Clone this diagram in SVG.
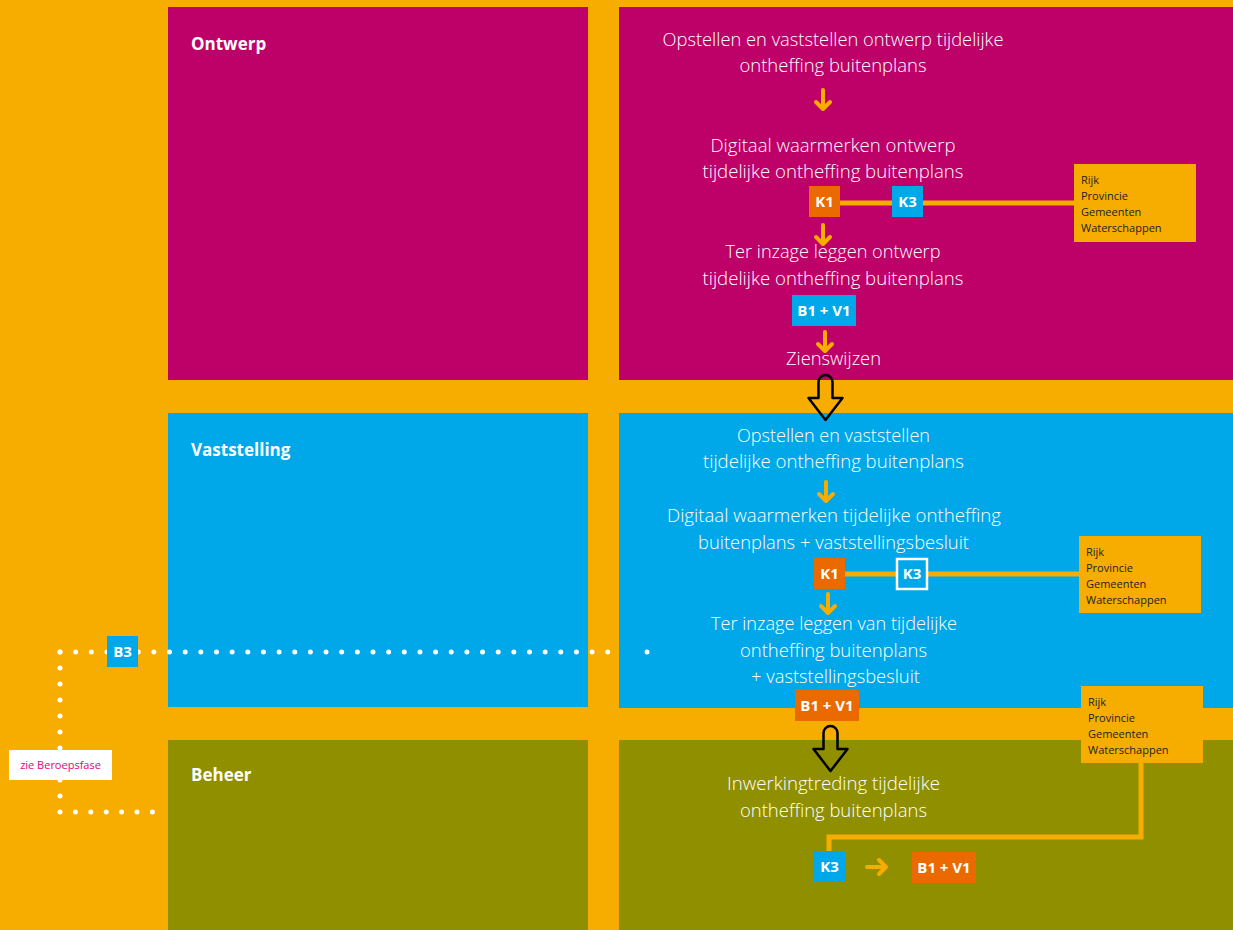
<svg xmlns="http://www.w3.org/2000/svg" width="1233" height="930" viewBox="0 0 1233 930">
<style>
.t{font-family:"Open Sans","Liberation Sans",sans-serif;font-size:17.5px;fill:#ffffff;text-anchor:middle;font-weight:300}
.h{font-family:"Open Sans","Liberation Sans",sans-serif;font-size:17px;font-weight:bold;fill:#ffffff}
.lb{font-family:"Open Sans","Liberation Sans",sans-serif;font-size:15px;font-weight:bold;fill:#ffffff;text-anchor:middle}
.r{font-family:"Open Sans","Liberation Sans",sans-serif;font-size:11px;fill:#222222}
.sa{fill:none;stroke:#F7AD00;stroke-width:4;stroke-linecap:round;stroke-linejoin:round}
.ln{fill:none;stroke:#F7AD00;stroke-width:5}
.dot{fill:none;stroke:#ffffff;stroke-width:5;stroke-linecap:round}
.ba{fill:none;stroke:#000000;stroke-width:2.5;stroke-linejoin:round}
</style>
<defs>
<path id="big" d="M-7,23 V7 A7,7 0 0 1 7,7 V23 H17 L0,45 L-17,23 Z"/>
<path id="small" d="M0,0 V18 M-7,12 L0,19 L7,12"/>
</defs>
<rect width="1233" height="930" fill="#F7AD00"/>

<g id="ontwerp-left"><rect x="168" y="7" width="420" height="373" fill="#BE0069"/><text class="h" x="191" y="50">Ontwerp</text></g>
<g id="vaststelling-left"><rect x="168" y="413" width="420" height="294" fill="#00A7E9"/><text class="h" x="191" y="456">Vaststelling</text></g>
<g id="beheer-left"><rect x="168" y="740" width="420" height="190" fill="#8F8F00"/><text class="h" x="191" y="781">Beheer</text></g>
<g id="ontwerp-right"><rect x="619" y="7" width="614" height="373" fill="#BE0069"/></g>
<g id="vaststelling-right"><rect x="619" y="413" width="614" height="295" fill="#00A7E9"/></g>
<g id="beheer-right"><rect x="619" y="740" width="614" height="190" fill="#8F8F00"/></g>

<g id="connectors">
<line class="ln" x1="840" y1="203" x2="1074" y2="203"/>
<line class="ln" x1="845" y1="574" x2="1079" y2="574"/>
<path class="ln" d="M1141,763 V837 H829 V851"/>
<use href="#small" class="sa" x="823" y="90"/>
<use href="#small" class="sa" x="823" y="225"/>
<use href="#small" class="sa" x="825" y="332"/>
<use href="#small" class="sa" x="826" y="482"/>
<use href="#small" class="sa" x="828" y="594"/>
<path class="sa" d="M867,867 H885 M879,860 L886,867 L879,874"/>
<use href="#big" class="ba" x="825.5" y="375"/>
<use href="#big" class="ba" x="830.5" y="726"/>
<line class="dot" x1="60" y1="652" x2="623" y2="652" stroke-dasharray="0 15.65"/>
<circle cx="647" cy="652" r="2.5" fill="#ffffff"/>
<line class="dot" x1="60" y1="652" x2="60" y2="812" stroke-dasharray="0 16"/>
<line class="dot" x1="60" y1="812" x2="153" y2="812" stroke-dasharray="0 15.4"/>
</g>

<g id="step-o1"><text class="t" x="833" y="46" textLength="341" lengthAdjust="spacingAndGlyphs">Opstellen en vaststellen ontwerp tijdelijke</text><text class="t" x="833" y="72" textLength="187" lengthAdjust="spacingAndGlyphs">ontheffing buitenplans</text></g>
<g id="step-o2"><text class="t" x="833" y="152" textLength="245" lengthAdjust="spacingAndGlyphs">Digitaal waarmerken ontwerp</text><text class="t" x="833" y="178" textLength="261" lengthAdjust="spacingAndGlyphs">tijdelijke ontheffing buitenplans</text></g>
<g id="k1-o"><rect x="809" y="186" width="31" height="31" fill="#EB6A00"/><text class="lb" x="824.5" y="207">K1</text></g>
<g id="k3-o"><rect x="892" y="186" width="31" height="31" fill="#00A7E9"/><text class="lb" x="907.5" y="207">K3</text></g>
<g id="rijk-o"><rect x="1074" y="164" width="122" height="78" fill="#F7AD00"/><text class="r" x="1081" y="184">Rijk</text><text class="r" x="1081" y="200">Provincie</text><text class="r" x="1081" y="216">Gemeenten</text><text class="r" x="1081" y="232">Waterschappen</text></g>
<g id="step-o3"><text class="t" x="833" y="258" textLength="215" lengthAdjust="spacingAndGlyphs">Ter inzage leggen ontwerp</text><text class="t" x="833" y="285" textLength="261" lengthAdjust="spacingAndGlyphs">tijdelijke ontheffing buitenplans</text></g>
<g id="bv-o"><rect x="792" y="295" width="64" height="31" fill="#00A7E9"/><text class="lb" x="824" y="316">B1 + V1</text></g>
<g id="step-o4"><text class="t" x="833.5" y="365" textLength="95" lengthAdjust="spacingAndGlyphs">Zienswijzen</text></g>

<g id="step-v1"><text class="t" x="833.5" y="442" textLength="193" lengthAdjust="spacingAndGlyphs">Opstellen en vaststellen</text><text class="t" x="833.5" y="468" textLength="261" lengthAdjust="spacingAndGlyphs">tijdelijke ontheffing buitenplans</text></g>
<g id="step-v2"><text class="t" x="834" y="522" textLength="334" lengthAdjust="spacingAndGlyphs">Digitaal waarmerken tijdelijke ontheffing</text><text class="t" x="833.5" y="549" textLength="271" lengthAdjust="spacingAndGlyphs">buitenplans + vaststellingsbesluit</text></g>
<g id="k1-v"><rect x="814" y="558" width="31" height="31" fill="#EB6A00"/><text class="lb" x="829.5" y="579">K1</text></g>
<g id="k3-v"><rect x="897" y="559" width="30" height="30" fill="#00A7E9" stroke="#ffffff" stroke-width="2.5"/><text class="lb" x="912" y="579">K3</text></g>
<g id="rijk-v"><rect x="1079" y="536" width="122" height="77" fill="#F7AD00"/><text class="r" x="1086" y="556">Rijk</text><text class="r" x="1086" y="572">Provincie</text><text class="r" x="1086" y="588">Gemeenten</text><text class="r" x="1086" y="604">Waterschappen</text></g>
<g id="step-v3"><text class="t" x="834" y="630" textLength="246" lengthAdjust="spacingAndGlyphs">Ter inzage leggen van tijdelijke</text><text class="t" x="833.5" y="657" textLength="187" lengthAdjust="spacingAndGlyphs">ontheffing buitenplans</text><text class="t" x="835.5" y="683" textLength="169" lengthAdjust="spacingAndGlyphs">+ vaststellingsbesluit</text></g>
<g id="bv-v"><rect x="795" y="690" width="64" height="31" fill="#EB6A00"/><text class="lb" x="827" y="711">B1 + V1</text></g>
<g id="rijk-b"><rect x="1081" y="686" width="122" height="77" fill="#F7AD00"/><text class="r" x="1088" y="706">Rijk</text><text class="r" x="1088" y="722">Provincie</text><text class="r" x="1088" y="738">Gemeenten</text><text class="r" x="1088" y="754">Waterschappen</text></g>

<g id="step-b1"><text class="t" x="833.5" y="790" textLength="213" lengthAdjust="spacingAndGlyphs">Inwerkingtreding tijdelijke</text><text class="t" x="833.5" y="817" textLength="187" lengthAdjust="spacingAndGlyphs">ontheffing buitenplans</text></g>
<g id="k3-b"><rect x="814" y="851" width="31" height="31" fill="#00A7E9"/><text class="lb" x="829.5" y="872">K3</text></g>
<g id="bv-b"><rect x="912" y="852" width="64" height="31" fill="#EB6A00"/><text class="lb" x="944" y="873">B1 + V1</text></g>

<g id="b3"><rect x="107" y="636" width="31" height="31" fill="#00A7E9"/><text class="lb" x="122.5" y="657">B3</text></g>
<g id="beroep"><rect x="9" y="750" width="103" height="30" fill="#ffffff"/><text x="60.5" y="769" font-family="Open Sans, Liberation Sans, sans-serif" font-size="11" fill="#E5007D" text-anchor="middle">zie Beroepsfase</text></g>
</svg>
